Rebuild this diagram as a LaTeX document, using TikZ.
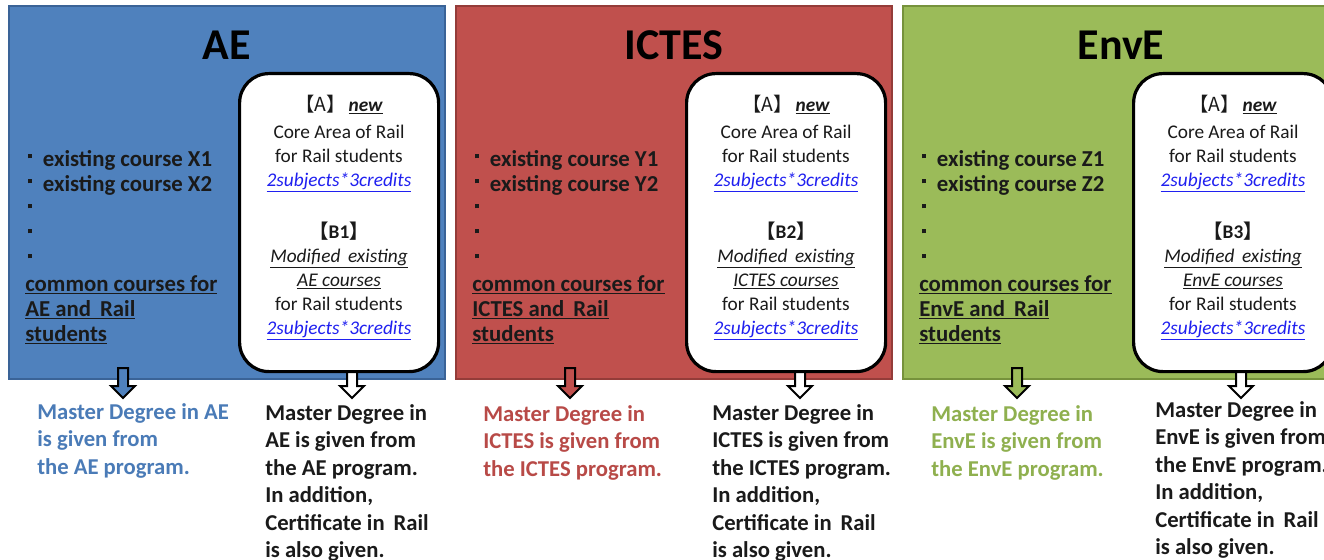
\documentclass[tikz,border=0pt]{standalone}
\usepackage{fontspec}
\setmainfont{Carlito}
\newfontfamily\cjk{Noto Sans CJK SC}
\usetikzlibrary{calc}
\definecolor{aeFill}{HTML}{4F81BD}
\definecolor{aeLine}{HTML}{3A6397}
\definecolor{icFill}{HTML}{C0504D}
\definecolor{icLine}{HTML}{943C39}
\definecolor{evFill}{HTML}{9BBB59}
\definecolor{evLine}{HTML}{76923C}
\definecolor{aeText}{HTML}{4A7BB7}
\definecolor{icText}{HTML}{B84A47}
\definecolor{evText}{HTML}{8FB04F}
\definecolor{linkblue}{HTML}{2020F0}
\definecolor{ink}{HTML}{1A1A1A}
\newcommand\bul{\rule[6pt]{3pt}{3pt}}
\newcommand\lnk[1]{\textcolor{linkblue}{\underline{\textit{#1}}}}
\newcommand\ul[1]{\underline{#1}}
\tikzset{
  panel/.style={rectangle, line width=1.5pt, minimum width=327pt, minimum height=279.75pt, anchor=north west, inner sep=0pt, outer sep=0pt},
  corebox/.style={rectangle, rounded corners=22pt, draw=black, line width=2.4pt, fill=white, minimum width=149.25pt, minimum height=223.5pt, anchor=north west, inner sep=0pt},
  titletext/.style={font=\fontsize{33}{40}\selectfont\bfseries, text=black, inner sep=0pt},
  listtext/.style={font=\fontsize{17.1}{18.75}\selectfont\bfseries, align=left, anchor=north west, inner sep=0pt, text=ink},
  coretext/.style={font=\fontsize{14.5}{18}\selectfont, align=center, anchor=north, inner sep=0pt, text=ink},
  resulttext/.style={font=\fontsize{17}{20.6}\selectfont\bfseries, align=left, anchor=north west, inner sep=0pt},
  blockarrow/.style={draw=black, line width=1.5pt, line join=miter}
}
% #1 left x, #2 prefix, #3 fill, #4 line, #5 title, #6 letter, #7 B label, #8 right arrow offset
\newcommand\program[8]{%
  \begin{scope}[shift={(#1,0)}]
    \node[panel, fill=#3, draw=#4] (#2panel) at (0,6) {};
    \coordinate (#2la) at (114,368);
    \coordinate (#2ra) at (#8,370);
    \draw[blockarrow, fill=#3] (#2la) ++(-5,0) -- ++(10,0) -- ++(0,18) -- ++(7,0) -- ++(-12,12) -- ++(-12,-12) -- ++(7,0) -- cycle;
    \draw[blockarrow, fill=white] (#2ra) ++(-5,0) -- ++(10,0) -- ++(0,16) -- ++(7,0) -- ++(-12,12) -- ++(-12,-12) -- ++(7,0) -- cycle;
    \node[corebox] (#2core) at (229,72) {};
    \node[titletext] (#2title) at (218,45) {#5};
    \node[listtext] (#2list) at (16,150) {%
      \hspace*{2.25pt}\bul\hspace{8pt}existing course #61\\
      \hspace*{2.25pt}\bul\hspace{8pt}existing course #62\\
      \hspace*{2.25pt}\bul\\
      \hspace*{2.25pt}\bul\\
      \hspace*{2.25pt}\bul\\
      \ul{common courses for}\\
      \ul{#5 and\, Rail}\\
      \ul{students}};
    \node[coretext] (#2text) at (330,95) {%
      {\cjk 【A】}\,\ul{\textbf{\textit{new}}}\\[2pt]
      Core Area of Rail\\
      for Rail students\\
      \lnk{2subjects*3credits}\\[21pt]
      \textbf{{\cjk 【}#7{\cjk 】}}\\
      \ul{\textit{Modified\, existing}}\\
      \ul{\textit{#5 courses}}\\
      for Rail students\\
      \lnk{2subjects*3credits}};
  \end{scope}}
\begin{document}
\begin{tikzpicture}[x=0.75pt,y=-0.75pt]
  \useasboundingbox (0,0) rectangle (1324,560);
  \clip (0,0) rectangle (1324,560);
  \fill[white] (0,0) rectangle (1324,560);
  \program{9}{ae}{aeFill}{aeLine}{AE}{X}{B1}{343}
  \program{456}{ic}{icFill}{icLine}{ICTES}{Y}{B2}{344}
  \program{903}{ev}{evFill}{evLine}{EnvE}{Z}{B3}{338}
  % results
  \node[resulttext, text=aeText] (aeres) at (37,403) {Master Degree in AE\\is given from\\the AE program.};
  \node[resulttext, text=ink] (aecert) at (265,404) {Master Degree in\\AE is given from\\the AE program.\\In addition,\\Certificate in\, Rail\\is also given.};
  \node[resulttext, text=icText] (icres) at (483,405) {Master Degree in\\ICTES is given from\\the ICTES program.};
  \node[resulttext, text=ink] (iccert) at (712,404) {Master Degree in\\ICTES is given from\\the ICTES program.\\In addition,\\Certificate in\, Rail\\is also given.};
  \node[resulttext, text=evText] (evres) at (931,405) {Master Degree in\\EnvE is given from\\the EnvE program.};
  \node[resulttext, text=ink] (evcert) at (1155,401) {Master Degree in\\EnvE is given from\\the EnvE program.\\In addition,\\Certificate in\, Rail\\is also given.};
\end{tikzpicture}
\end{document}
